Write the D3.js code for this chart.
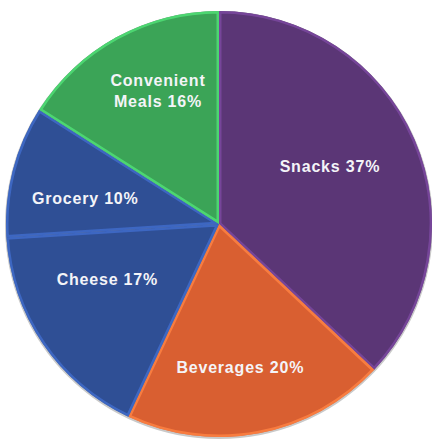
<!DOCTYPE html>
<html>
<head>
<meta charset="utf-8">
<script src="https://cdn.jsdelivr.net/npm/d3@7"></script>
<style>
  html, body { margin: 0; padding: 0; background: #ffffff; }
</style>
</head>
<body>
<svg id="chart" width="432" height="439"></svg>
<script>
// chart data
var categories = ["Snacks", "Beverages", "Cheese", "Grocery", "Convenient Meals"];
var shares = [37, 20, 17, 10, 16];
var labelLines = [["Snacks 37%"], ["Beverages 20%"], ["Cheese 17%"], ["Grocery 10%"], ["Convenient", "Meals 16%"]];

// look
var fills = ["#5b3676", "#d95f31", "#2f4f95", "#2f4f95", "#3ba457"];
var labelNudge = [[-13, -4], [-4, 10], [0, -21], [-3, 8], [4, -15]];

(function(d3) {
    var svg = d3.select("#chart");
    var cx = 219, cy = 224, radius = 213;

    var slices = categories.map(function(c, i) {
        return { name: c, value: shares[i], fill: fills[i], lines: labelLines[i], nudge: labelNudge[i] };
    });

    var pie = d3.pie()
        .sort(null)
        .value(function(d) { return d.value; });

    var arc = d3.arc().innerRadius(0).outerRadius(radius);
    var labelArc = d3.arc().innerRadius(135).outerRadius(135);

    var defs = svg.append("defs");
    var g = svg.append("g").attr("transform", "translate(" + cx + "," + cy + ")");

    var arcs = pie(slices);

    // soft shadow under the disc
    g.append("circle")
        .attr("r", radius + 1)
        .attr("cy", 1)
        .attr("fill", "#c9c9c9");

    arcs.forEach(function(d, i) {
        defs.append("clipPath").attr("id", "clip" + i)
            .append("path").attr("d", arc(d));
    });

    var slice = g.selectAll("g.slice")
        .data(arcs)
        .enter()
        .append("g")
        .attr("class", "slice");

    slice.append("path")
        .attr("d", arc)
        .attr("fill", function(d) { return d.data.fill; });

    // light bevel along the slice edges
    slice.append("path")
        .attr("d", arc)
        .attr("fill", "none")
        .attr("clip-path", function(d, i) { return "url(#clip" + i + ")"; })
        .attr("stroke", function(d) { return d3.color(d.data.fill).brighter(0.9); })
        .attr("stroke-opacity", 0.8)
        .attr("stroke-width", 5)
        .attr("stroke-linejoin", "round");

    var text = slice.append("text")
        .attr("transform", function(d) {
            var c = labelArc.centroid(d);
            return "translate(" + (c[0] + d.data.nudge[0]) + "," + (c[1] + d.data.nudge[1]) + ")";
        })
        .attr("text-anchor", "middle")
        .attr("font-family", "Liberation Sans, Arial, sans-serif")
        .attr("font-size", 16)
        .attr("font-weight", "bold")
        .attr("letter-spacing", 0.8)
        .style("fill", "#f4f4f8");

    text.selectAll("tspan")
        .data(function(d) { return d.data.lines.map(function(t, k) { return { t: t, k: k, n: d.data.lines.length }; }); })
        .enter()
        .append("tspan")
        .attr("x", 0)
        .attr("y", function(d) { return (d.k - (d.n - 1) / 2) * 21 + 6; })
        .text(function(d) { return d.t; });
})(d3);
</script>
</body>
</html>
